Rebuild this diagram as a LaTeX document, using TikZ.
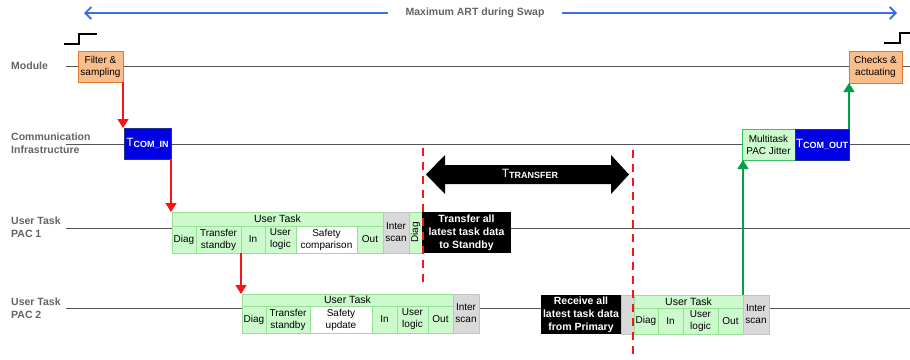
\documentclass[tikz,border=0pt]{standalone}
\usepackage{fontspec}
\setmainfont{Liberation Sans}
\usetikzlibrary{arrows.meta}
\definecolor{lblgray}{RGB}{100,100,100}
\definecolor{tlgray}{RGB}{85,85,85}
\definecolor{cgreen}{RGB}{204,250,204}
\definecolor{cgreenb}{RGB}{150,225,150}
\definecolor{cgray}{RGB}{217,217,217}
\definecolor{cgrayb}{RGB}{195,195,195}
\definecolor{orf}{RGB}{250,190,140}
\definecolor{orb}{RGB}{225,120,50}
\definecolor{bluef}{RGB}{0,0,228}
\definecolor{blueb}{RGB}{30,50,140}
\definecolor{artblue}{RGB}{60,110,230}
\definecolor{arrred}{RGB}{250,20,20}
\definecolor{arrgreen}{RGB}{0,160,70}
\definecolor{mtborder}{RGB}{60,190,100}
\newcommand\cellnode[7]{\node[#2, minimum width={(#5-#3)*1pt}, minimum height={(#6-#4)*1pt}, anchor=north west] (#1) at (#3,#4) {#7};}
\newcommand\tsubtext[1]{{\fontsize{12}{12}\selectfont T}\raisebox{-1.5pt}{\bfseries\fontsize{9}{9}\selectfont #1}}
\tikzset{
  base/.style={inner sep=0pt, outer sep=0pt, align=center, font=\fontsize{10}{12}\selectfont, line width=0.8pt},
  gcell/.style={base, draw=cgreenb, fill=cgreen},
  hcell/.style={gcell, font=\fontsize{10.5}{12}\selectfont},
  wcell/.style={base, draw=cgreenb, fill=white},
  gycell/.style={base, draw=cgrayb, fill=cgray},
  blk/.style={base, fill=black, text=white, font=\bfseries\fontsize{10.5}{13}\selectfont},
  orbox/.style={base, draw=orb, fill=orf},
  bluebox/.style={base, draw=blueb, fill=bluef, text=white},
  mtbox/.style={base, draw=mtborder, fill=cgreen},
  lbl/.style={anchor=west, align=left, text=lblgray, font=\bfseries\fontsize{10.5}{13}\selectfont, inner sep=0pt},
  tl/.style={draw=tlgray, line width=1pt},
  redarr/.style={draw=arrred, line width=1.4pt, -{Triangle[length=9pt,width=11pt]}},
  greenarr/.style={draw=arrgreen, line width=1.4pt, -{Triangle[length=9pt,width=11pt]}},
  dashln/.style={draw=arrred, line width=1.4pt, dash pattern=on 8pt off 6pt},
  art/.style={draw=artblue, line width=1.8pt, -{Straight Barb[length=6pt,width=12pt]}},
  steplin/.style={draw=black, line width=1.2pt}
}
\begin{document}
\begin{tikzpicture}[x=1pt,y=-1pt]
\useasboundingbox (0,0) rectangle (910,359);
% ART arrow
\node[text=lblgray, font=\bfseries\fontsize{10.5}{12}\selectfont, inner xsep=17pt, inner ysep=0pt] (artlbl) at (475,13) {Maximum ART during Swap};
\coordinate (artL) at (84,13);
\coordinate (artR) at (897,13);
\draw[art] (artlbl.west) -- (artL);
\draw[art] (artlbl.east) -- (artR);
% step signals
\draw[steplin] (64,44) -- (79,44) -- (79,34) -- (97,34);
\draw[steplin] (884,43) -- (900,43) -- (900,33) -- (910,33);
% labels
\node[lbl] (lmod) at (11,66) {Module};
\node[lbl] (lcom) at (11,143.5) {Communication\\Infrastructure};
\node[lbl] (lp1) at (11,227.5) {User Task\\PAC 1};
\node[lbl] (lp2) at (11,308.5) {User Task\\PAC 2};
% timelines
\coordinate (mL) at (66,66); \coordinate (mR) at (910,66);
\coordinate (cL) at (66,144); \coordinate (cR) at (910,144);
\coordinate (p1L) at (66,228); \coordinate (p1R) at (910,228);
\coordinate (p2L) at (66,308); \coordinate (p2R) at (910,308);
\draw[tl] (mL) -- (mR);
\draw[tl] (cL) -- (cR);
\draw[tl] (p1L) -- (p1R);
\draw[tl] (p2L) -- (p2R);
% module / comm boxes
\cellnode{filt}{orbox}{78}{51}{123}{82}{Filter \&\\sampling}
\cellnode{tci}{bluebox}{124}{128}{171}{159}{\tsubtext{COM\_IN}}
\cellnode{mtj}{mtbox}{742}{129}{795}{160}{Multitask\\PAC Jitter}
\cellnode{tco}{bluebox}{795}{129}{849}{160}{\tsubtext{COM\_OUT}}
\cellnode{chk}{orbox}{849}{51}{902}{83}{Checks \&\\actuating}
% PAC1
\cellnode{u1h}{hcell}{172}{212}{383}{226}{User Task}
\cellnode{u1diag}{gcell}{172}{226}{196}{253}{Diag}
\cellnode{u1ts}{gcell}{196}{226}{241}{253}{Transfer\\standby}
\cellnode{u1in}{gcell}{241}{226}{265}{253}{In}
\cellnode{u1ul}{gcell}{265}{226}{296}{253}{User\\logic}
\cellnode{u1sc}{wcell}{296}{226}{357}{253}{Safety\\comparison}
\cellnode{u1out}{gcell}{357}{226}{383}{253}{Out}
\cellnode{u1is}{gycell}{383}{212}{409}{253}{Inter\\scan}
\cellnode{u1d2}{gcell}{409}{212}{422}{253}{}
\node[rotate=90, inner sep=0pt, font=\fontsize{10}{12}\selectfont] (u1d2t) at (u1d2.center) {Diag};
\cellnode{u1tr}{blk}{422}{212}{511}{253}{Transfer all\\latest task data\\to Standby}
% PAC2 first
\cellnode{u2h}{hcell}{242}{294}{453}{306}{User Task}
\cellnode{u2diag}{gcell}{242}{306}{266}{333}{Diag}
\cellnode{u2ts}{gcell}{266}{306}{310}{333}{Transfer\\standby}
\cellnode{u2su}{wcell}{310}{306}{372}{333}{Safety\\update}
\cellnode{u2in}{gcell}{372}{306}{397}{333}{In}
\cellnode{u2ul}{gcell}{397}{306}{428}{333}{User\\logic}
\cellnode{u2out}{gcell}{428}{306}{453}{333}{Out}
\cellnode{u2is}{gycell}{453}{294}{479}{333}{Inter\\scan}
% PAC2 second
\cellnode{u2rc}{blk}{541}{295}{621}{334}{Receive all\\latest task data\\from Primary}
\cellnode{u2g}{gycell}{621}{295}{634}{334}{}
\cellnode{u3h}{hcell}{634}{295}{743}{308}{User Task}
\cellnode{u3diag}{gcell}{634}{308}{658}{334}{Diag}
\cellnode{u3in}{gcell}{658}{308}{683}{334}{In}
\cellnode{u3ul}{gcell}{683}{308}{718}{334}{User\\logic}
\cellnode{u3out}{gcell}{718}{308}{743}{334}{Out}
\cellnode{u3is}{gycell}{743}{295}{769}{334}{Inter\\scan}
% transfer arrow
\fill[black] (426,174.5) -- (445,155) -- (445,165) -- (611,165) -- (611,155) -- (629,174.5)
  -- (611,194) -- (611,184) -- (445,184) -- (445,194) -- cycle;
\node[text=white, inner sep=0pt] (ttr) at (530,174) {\tsubtext{TRANSFER}};
% dashed lines
\coordinate (d1T) at (423,148); \coordinate (d1B) at (423,282);
\coordinate (d2T) at (633,150); \coordinate (d2B) at (633,359);
\draw[dashln] (d1T) -- (d1B);
\draw[dashln] (d2T) -- (d2B);
% arrows
\draw[redarr] (filt.south east) -- (filt.south east |- tci.north);
\draw[redarr] (tci.south east) -- (tci.south east |- u1h.north);
\draw[redarr] (u1ts.south east) -- (u1ts.south east |- u2h.north);
\draw[greenarr] (u3h.north east) -- (u3h.north east |- mtj.south);
\draw[greenarr] (tco.north east) -- (tco.north east |- chk.south);
\end{tikzpicture}
\end{document}
